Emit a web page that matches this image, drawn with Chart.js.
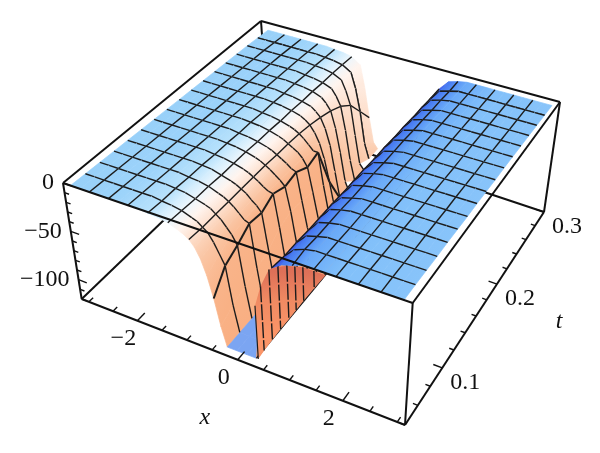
<!DOCTYPE html>
<html lang="en">
<head>
    <meta charset="UTF-8">
    <title>3D surface</title>
    <script src="https://cdn.jsdelivr.net/npm/chart.js"></script>
    <style>
        body { margin: 0; background: #ffffff; }
        canvas { display: block; }
    </style>
</head>
<body>
    <canvas id="surfaceChart" width="600" height="453"></canvas>

    <script>
        // sample columns along x
        const xCols = [-3, -2.8125, -2.625, -2.4375, -2.25, -2.0625, -1.875, -1.6875, -1.5, -1.3125, -1.125, -0.9375, -0.84375, -0.75, -0.65625, -0.5625, -0.46875, -0.375, -0.28125, -0.1875, 0,
            0.1875, 0.375, 0.5625, 0.75, 0.9375, 1.125, 1.3125, 1.5, 1.6875, 1.875, 2.0625, 2.25, 2.4375, 2.625, 2.8125, 3];
        // columns that carry a mesh line
        const xMesh = [-2.625, -2.25, -1.875, -1.5, -1.125, -0.75, -0.375, 0, 0.375, 0.75, 1.125, 1.5, 1.875, 2.25, 2.625];
        const tRows = [0.04, 0.05625, 0.0725, 0.08875, 0.105, 0.12125, 0.1375, 0.15375, 0.17, 0.18625, 0.2025, 0.21875, 0.235, 0.25125, 0.2675, 0.28375, 0.3];

        // flat parts of the surface, one value per t row
        const leftPlateau = [0, -0.5, -1, -1.5, -2, -2.5, -3, -3.5, -4, -4.5, -5, -5.5, -6, -6.5, -7, -8, -9];
        const rightPlateau = [0, 0, -0.5, -1, -1, -1.5, -2, -2, -2.5, -3, -3, -3.5, -4, -4.5, -5, -5.5, -6];

        // the well, x from -1.5 to 1.125, one row per t
        const wellCols = [-1.5, -1.3125, -1.125, -0.9375, -0.84375, -0.75, -0.65625, -0.5625, -0.46875, -0.375, -0.28125, -0.1875, 0, 0.1875, 0.375, 0.5625, 0.75, 0.9375, 1.125];
        const wellZ = [
            [-1, -2, -4, -8, -10.5, -14, -20, -30, -45, -66, -92, -111, -111, -111, -111, -36, -14, -7, -4],
            [-2, -3, -5, -9, -11, -15, -19, -27, -37, -47, -85, -111, -111, -111, -111, -36, -16, -6, -2],
            [-2, -3, -6, -9, -11, -15, -19, -25, -31, -40, -80, -111, -111, -111, -111, -37, -16, -6, -3],
            [-3, -4, -6, -10, -12, -15, -19, -24, -29, -31, -75, -111, -111, -111, -111, -37, -17, -6, -3],
            [-3, -4, -7, -10, -12, -15, -18, -23, -27, -33, -70, -104, -111, -111, -111, -38, -17, -6, -3],
            [-4, -5, -7, -10, -12, -15, -18, -22, -25, -26, -60, -95, -111, -111, -111, -38, -17, -7, -4],
            [-4, -5, -7, -10, -12, -15, -18, -22, -26, -31, -56, -88, -111, -111, -111, -38, -18, -7, -4],
            [-5, -6, -8, -11, -13, -16, -19, -22, -26, -28, -57, -84, -111, -111, -111, -39, -18, -7, -4],
            [-5, -6, -8, -11, -13, -16, -19, -22, -27, -35, -60, -86, -111, -111, -111, -39, -18, -8, -5],
            [-6, -7, -9, -12, -14, -17, -21, -26, -31, -31, -65, -92, -111, -111, -111, -40, -19, -8, -5],
            [-6, -7, -9, -12, -15, -19, -26, -36, -52, -75, -100, -111, -111, -111, -111, -40, -19, -8, -5],
            [-7, -8, -10, -13, -17, -22, -33, -50, -78, -105, -111, -111, -111, -111, -111, -40, -20, -9, -6],
            [-7, -8, -10, -14, -19, -26, -44, -70, -100, -111, -111, -111, -111, -111, -111, -40, -20, -9, -6],
            [-8, -9, -11, -15, -22, -32, -58, -90, -111, -111, -111, -111, -111, -111, -111, -40, -21, -10, -7],
            [-8, -9, -11, -16, -27, -42, -75, -105, -111, -111, -111, -111, -111, -111, -111, -40, -21, -10, -7],
            [-9, -10, -12, -18, -35, -60, -95, -111, -111, -111, -111, -111, -111, -111, -111, -40, -22, -11, -8],
            [-10, -11, -13, -20, -45, -78, -105, -111, -111, -111, -111, -111, -111, -111, -111, -40, -22, -11, -8]
        ];

        // orange cross section seen under the right plateau, at the first t row
        const faceX = [0.41, 0.535, 0.705, 0.87, 1.03, 1.17, 1.31, 1.5, 1.7];
        const faceTop = [-58, -36, -16, -10, -6, -4, -2, -2, -2];
        const faceBottom = [-111, -100, -86, -72, -59, -47, -35, -19, -2];

        // ticks and labels
        const xTicks = [-3, -2.5, -2, -1.5, -1, -0.5, 0, 0.5, 1, 1.5, 2, 2.5, 3];
        const xMajor = [-2, 0, 2];
        const tTicks = [0.04, 0.06, 0.08, 0.1, 0.12, 0.14, 0.16, 0.18, 0.2, 0.22, 0.24, 0.26, 0.28, 0.3];
        const tMajor = [0.1, 0.2, 0.3];
        const zTicks = [0, -10, -20, -30, -40, -50, -60, -70, -80, -90, -100, -110, -120];
        const zMajor = [0, -50, -100];

        // box limits and where its corners land on the page
        const box = { xMin: -3.15, xMax: 3.14, tMin: 0.04, tMax: 0.3, zMin: -120, zMax: 0 };
        const floorQuad = [[81.7, 299], [405, 425], [544, 212], [268, 120]];
        const roofQuad = [[63, 183], [412.7, 303], [560, 102], [261, 21]];

        function homography(q) {
            const [[x0, y0], [x1, y1], [x2, y2], [x3, y3]] = q;
            const dx1 = x1 - x2, dx2 = x3 - x2, sx = x0 - x1 + x2 - x3;
            const dy1 = y1 - y2, dy2 = y3 - y2, sy = y0 - y1 + y2 - y3;
            const den = dx1 * dy2 - dx2 * dy1;
            const g = (sx * dy2 - dx2 * sy) / den;
            const h = (dx1 * sy - sx * dy1) / den;
            const a = x1 - x0 + g * x1, b = x3 - x0 + h * x3;
            const d = y1 - y0 + g * y1, e = y3 - y0 + h * y3;
            return (u, v) => {
                const w = g * u + h * v + 1;
                return [(a * u + b * v + x0) / w, (d * u + e * v + y0) / w];
            };
        }
        const floorMap = homography(floorQuad);
        const roofMap = homography(roofQuad);

        function project(x, t, z) {
            const u = (x - box.xMin) / (box.xMax - box.xMin);
            const v = (t - box.tMin) / (box.tMax - box.tMin);
            const w = (z - box.zMin) / (box.zMax - box.zMin);
            const a = floorMap(u, v), b = roofMap(u, v);
            return { x: a[0] + (b[0] - a[0]) * w, y: a[1] + (b[1] - a[1]) * w };
        }

        function zAt(r, x) {
            if (x < wellCols[0]) return leftPlateau[r];
            if (x > wellCols[wellCols.length - 1]) return rightPlateau[r];
            return wellZ[r][wellCols.indexOf(x)];
        }

        // colour stops along x, style only
        const leftStops = [[-3, 152, 208, 249], [-2.1, 156, 211, 250], [-1.5, 184, 226, 252], [-1.15, 234, 246, 254], [-0.95, 255, 245, 240], [-0.75, 253, 224, 206], [-0.55, 250, 196, 162], [-0.35, 249, 178, 134], [0.4, 248, 165, 120]];
        const rightStops = [[0.75, 58, 80, 224], [0.95, 70, 122, 242], [1.3, 104, 168, 248], [1.9, 130, 192, 250], [3, 136, 196, 250]];

        function ramp(stops, x) {
            if (x <= stops[0][0]) return stops[0].slice(1);
            for (let i = 1; i < stops.length; i++) {
                if (x <= stops[i][0]) {
                    const f = (x - stops[i - 1][0]) / (stops[i][0] - stops[i - 1][0]);
                    return [1, 2, 3].map(k => stops[i - 1][k] + (stops[i][k] - stops[i - 1][k]) * f);
                }
            }
            return stops[stops.length - 1].slice(1);
        }

        function colorAt(x) {
            const c = x < 0.72 ? ramp(leftStops, x) : ramp(rightStops, x);
            return 'rgb(' + c.map(Math.round).join(',') + ')';
        }

        const canvas = document.getElementById('surfaceChart');
        const ctx = canvas.getContext('2d');

        // gradient across the quad, at right angles to its t edge so rows line up
        function quadFill(pa, pb, pd, x1, x2) {
            const nx = pd.y - pa.y, ny = pa.x - pd.x;
            const k = ((pb.x - pa.x) * nx + (pb.y - pa.y) * ny) / (nx * nx + ny * ny);
            const g = ctx.createLinearGradient(pa.x, pa.y, pa.x + nx * k, pa.y + ny * k);
            g.addColorStop(0, colorAt(x1 >= 0.5625 && x1 < 0.72 ? 0.4 : x1));
            g.addColorStop(1, colorAt(x2 > 0.72 && x1 < 0.72 ? 0.4 : x2));
            return g;
        }

        function lineSet(points, color, width, dash) {
            return {
                data: points, showLine: true, fill: false, borderColor: color, borderWidth: width,
                borderDash: dash || [], pointRadius: 0, tension: 0
            };
        }

        function edge(x1, t1, z1, x2, t2, z2) {
            return [project(x1, t1, z1), project(x2, t2, z2)];
        }

        const boxColor = '#111111';
        const meshColor = '#1c1c1c';
        const floorColor = 'rgb(123,165,242)';
        const datasets = [];  // painted in this order, reversed at the end

        // box edges that sit behind the surface
        const b = box;
        datasets.push(lineSet(edge(b.xMin, b.tMin, b.zMin, b.xMin, b.tMax, b.zMin), boxColor, 2));
        datasets.push(lineSet(edge(b.xMin, b.tMax, b.zMin, b.xMax, b.tMax, b.zMin), boxColor, 2));
        datasets.push(lineSet(edge(b.xMin, b.tMax, b.zMin, b.xMin, b.tMax, b.zMax), boxColor, 2));

        // surface, far rows first and low x first inside a row
        const gap = { x: NaN, y: NaN };
        for (let r = tRows.length - 2; r >= 0; r--) {
            for (let j = 0; j < xCols.length - 1; j++) {
                const x1 = xCols[j], x2 = xCols[j + 1];
                const za = zAt(r, x1), zb = zAt(r, x2), zc = zAt(r + 1, x2), zd = zAt(r + 1, x1);
                const top = Math.max(za, zb, zc, zd);
                if (top <= -100 && r > 4) continue;
                const pa = project(x1, tRows[r], za), pb = project(x2, tRows[r], zb);
                const pc = project(x2, tRows[r + 1], zc), pd = project(x1, tRows[r + 1], zd);
                const color = top <= -110 ? floorColor : quadFill(pa, pb, pd, x1, x2);
                datasets.push({
                    data: [pa, pb, pc, pd, pa], showLine: true, fill: 'shape', backgroundColor: color,
                    borderColor: color, borderWidth: 0.7, pointRadius: 0, tension: 0
                });
                const mesh = [];
                if (top > -110) {
                    if (r + 1 < tRows.length - 1) mesh.push(pd, pc, gap);
                    if (r > 0) mesh.push(pa, pb, gap);
                }
                if (mesh.length) datasets.push(lineSet(mesh, meshColor, 1.4));
                // the x line on the steep wall reads heavier, like a dark streak
                if (top > -110 && xMesh.includes(x1)) {
                    datasets.push(lineSet([pa, pd], meshColor, x1 === -0.375 ? 2 : 1.4));
                }
            }
        }

        // cross section in the first t row
        const faceFill = ctx.createLinearGradient(0, 272, 0, 335);
        faceFill.addColorStop(0, '#de7058');
        faceFill.addColorStop(0.45, '#f08a62');
        faceFill.addColorStop(1, '#fb9568');
        const faceOutline = [];
        faceX.forEach((x, i) => faceOutline.push(project(x, tRows[0], faceTop[i])));
        for (let i = faceX.length - 1; i >= 0; i--) faceOutline.push(project(faceX[i], tRows[0], faceBottom[i]));
        faceOutline.push(faceOutline[0]);
        datasets.push({
            data: faceOutline, showLine: true, fill: 'shape', backgroundColor: faceFill,
            borderColor: 'rgba(0,0,0,0)', borderWidth: 0, pointRadius: 0, tension: 0
        });
        faceX.forEach((x, i) => {
            if (i === 0 || i === faceX.length - 1) return;
            datasets.push(lineSet(edge(x, tRows[0], faceTop[i], x, tRows[0], faceBottom[i]), meshColor, 1.4, [16, 2]));
        });
        datasets.push(lineSet(edge(faceX[0], tRows[0], faceTop[0], faceX[0], tRows[0], faceBottom[0]), meshColor, 1.2));

        // box edges in front of the surface
        datasets.push(lineSet(edge(b.xMin, b.tMin, b.zMax, b.xMax, b.tMin, b.zMax), boxColor, 2));
        datasets.push(lineSet(edge(b.xMax, b.tMin, b.zMax, b.xMax, b.tMax, b.zMax), boxColor, 2));
        datasets.push(lineSet(edge(b.xMax, b.tMax, b.zMax, b.xMin, b.tMax, b.zMax), boxColor, 2));
        datasets.push(lineSet(edge(b.xMin, b.tMax, b.zMax, b.xMin, b.tMin, b.zMax), boxColor, 2));
        datasets.push(lineSet(edge(b.xMin, b.tMin, b.zMax, b.xMin, b.tMin, b.zMin), boxColor, 2));
        datasets.push(lineSet(edge(b.xMin, b.tMin, b.zMin, b.xMax, b.tMin, b.zMin), boxColor, 2));
        datasets.push(lineSet(edge(b.xMax, b.tMin, b.zMin, b.xMax, b.tMin, b.zMax), boxColor, 2));
        datasets.push(lineSet(edge(b.xMax, b.tMin, b.zMin, b.xMax, b.tMax, b.zMin), boxColor, 2));
        datasets.push(lineSet(edge(b.xMax, b.tMax, b.zMin, b.xMax, b.tMax, b.zMax), boxColor, 2));

        // tick marks, drawn into the box
        xTicks.forEach(x => {
            const dt = xMajor.includes(x) ? 0.009 : 0.005;
            datasets.push(lineSet(edge(x, b.tMin, b.zMin, x, b.tMin + dt, b.zMin), boxColor, 1.4));
        });
        tTicks.forEach(t => {
            const dx = tMajor.includes(t) ? 0.17 : 0.09;
            datasets.push(lineSet(edge(b.xMax, t, b.zMin, b.xMax - dx, t, b.zMin), boxColor, 1.4));
        });
        zTicks.forEach(z => {
            const dx = zMajor.includes(z) ? 0.17 : 0.09;
            datasets.push(lineSet(edge(b.xMin, b.tMin, z, b.xMin + dx, b.tMin, z), boxColor, 1.4));
        });

        // tick labels and axis names follow the projected axes
        const axisText = {
            id: 'axisText',
            afterDraw(chart) {
                const c = chart.ctx;
                const sx = chart.scales.x, sy = chart.scales.y;
                const put = (text, p, dx, dy, align, font) => {
                    c.font = font;
                    c.textAlign = align;
                    c.textBaseline = 'middle';
                    c.fillStyle = '#111111';
                    c.fillText(text, sx.getPixelForValue(p.x) + dx, sy.getPixelForValue(p.y) + dy);
                };
                const font = '24px "Liberation Serif", serif';
                const italic = 'italic 24px "Liberation Serif", serif';
                xMajor.forEach(x => put(String(x).replace('-', '\u2212'), project(x, b.tMin, b.zMin), -14, 18, 'center', font));
                tMajor.forEach(t => put(t.toFixed(1), project(b.xMax, t, b.zMin), 23, 15, 'center', font));
                zMajor.forEach(z => put(String(z).replace('-', '\u2212'), project(b.xMin, b.tMin, z), -9, 0, 'right', font));
                put('x', project(0, b.tMin, b.zMin), -33, 58, 'center', italic);
                put('t', project(b.xMax, 0.2, b.zMin), 62, 38, 'center', italic);
            }
        };

        new Chart(canvas, {
            type: 'scatter',
            data: { datasets: datasets.reverse() },
            options: {
                responsive: false,
                animation: false,
                parsing: false,
                normalized: true,
                events: [],
                layout: { padding: 0 },
                plugins: { legend: { display: false }, tooltip: { enabled: false } },
                scales: {
                    x: { type: 'linear', min: 0, max: 600, display: false },
                    y: { type: 'linear', min: 0, max: 453, reverse: true, display: false }
                }
            },
            plugins: [axisText]
        });
    </script>
</body>
</html>
